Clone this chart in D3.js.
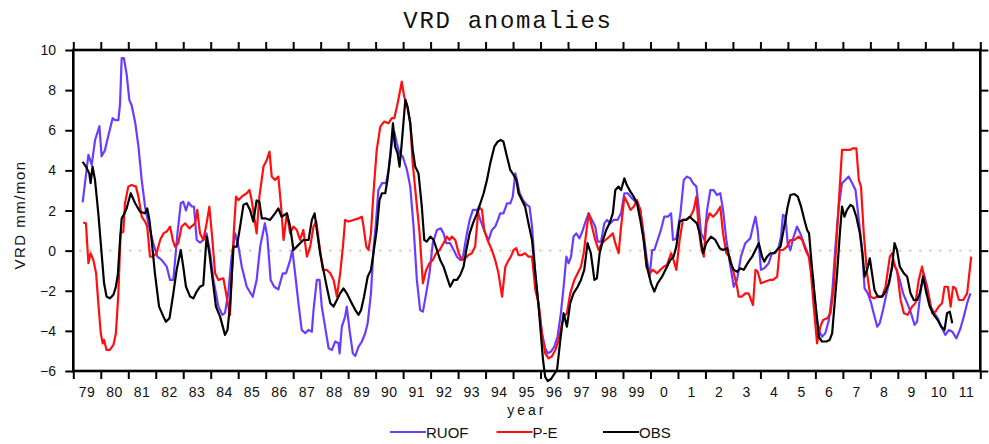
<!DOCTYPE html>
<html><head><meta charset="utf-8">
<script src="https://cdn.jsdelivr.net/npm/d3@7"></script>
<style>
html,body{margin:0;padding:0;background:#fff;}
svg{display:block;}
</style></head>
<body>
<svg id="chart" width="989" height="444"></svg>
<script>
// ---------- data ----------
const titleText = "VRD anomalies";
const yLabelText = "VRD mm/mon";
const xLabelText = "year";
const seriesNames = ["RUOF", "P-E", "OBS"];
const seriesColors = ["#6a3cff", "#ff1010", "#000000"];
const yearStart = 1979, yearEnd = 2012;
const yTicks = [-6, -4, -2, 0, 2, 4, 6, 8, 10];
const xTickYears = d3.range(1979, 2012);
const xTickLabels = ["79","80","81","82","83","84","85","86","87","88","89","90","91","92","93","94","95","96","97","98","99","0","1","2","3","4","5","6","7","8","9","10","11"];

const ruof = [
[1979.34,2.4],[1979.55,4.77],[1979.67,4.27],[1979.79,5.5],[1979.95,6.2],[1980.03,4.7],[1980.15,5.0],[1980.27,5.7],[1980.43,6.6],[1980.52,6.5],[1980.64,6.5],[1980.70,7.3],[1980.76,9.6],[1980.84,9.6],[1980.94,8.8],[1981.04,7.5],[1981.12,7.26],[1981.25,6.4],[1981.37,5.2],[1981.49,3.5],[1981.61,2.2],[1981.73,1.36],[1981.91,0.37],[1982.06,-0.3],[1982.22,-0.47],[1982.40,-0.8],[1982.52,-1.46],[1982.64,-1.46],[1982.79,0.86],[1982.91,2.36],[1983.00,2.44],[1983.10,2.0],[1983.19,2.4],[1983.31,2.2],[1983.39,2.2],[1983.49,0.53],[1983.61,0.4],[1983.73,0.53],[1983.85,0.86],[1983.98,-0.13],[1984.10,-1.46],[1984.28,-2.8],[1984.42,-3.2],[1984.52,-3.1],[1984.64,-2.1],[1984.76,-0.3],[1984.89,0.86],[1985.01,0.2],[1985.13,-0.8],[1985.31,-1.8],[1985.53,-2.3],[1985.67,-1.46],[1985.80,0.2],[1985.97,1.36],[1986.06,0.7],[1986.18,-1.46],[1986.31,-1.8],[1986.46,-1.93],[1986.62,-1.13],[1986.74,-1.13],[1986.89,-0.47],[1986.97,0.03],
[1987.07,-1.13],[1987.19,-2.6],[1987.31,-3.95],[1987.44,-4.12],[1987.56,-3.95],[1987.68,-4.04],[1987.74,-2.96],[1987.86,-1.46],[1987.96,-1.46],[1988.04,-2.79],[1988.16,-3.79],[1988.29,-4.87],[1988.41,-4.95],[1988.53,-4.53],[1988.65,-4.62],[1988.69,-5.12],[1988.77,-3.79],[1988.89,-3.29],[1988.95,-2.79],[1989.05,-3.95],[1989.17,-5.12],[1989.26,-5.25],[1989.38,-4.78],[1989.50,-4.53],[1989.62,-4.12],[1989.71,-3.62],[1989.83,-2.13],[1989.92,0.03],[1990.02,1.53],[1990.10,3.02],[1990.23,3.36],[1990.38,3.36],[1990.47,4.02],[1990.59,5.35],[1990.68,5.93],[1990.77,5.35],[1990.87,4.85],[1990.99,4.68],[1991.14,4.02],[1991.26,3.19],[1991.38,1.2],[1991.50,-1.46],[1991.62,-2.96],[1991.72,-3.04],[1991.84,-2.13],[1991.96,-1.13],[1992.08,0.37],[1992.23,1.03],[1992.37,1.11],[1992.47,0.86],[1992.57,0.37],[1992.71,0.37],[1992.84,0.03],[1992.96,-0.3],[1993.08,-0.47],[1993.18,-0.3],[1993.30,0.7],[1993.42,1.53],[1993.54,2.03],[1993.69,2.03],[1993.81,1.53],[1993.99,0.86],[1994.11,0.53],[1994.23,1.03],[1994.35,1.2],[1994.45,1.53],
[1994.53,1.86],[1994.65,1.86],[1994.78,2.36],[1994.90,2.36],[1994.99,2.69],[1995.08,3.85],[1995.14,3.52],[1995.24,2.86],[1995.36,2.52],[1995.50,2.28],[1995.60,2.19],[1995.69,1.2],[1995.81,-1.13],[1995.93,-2.79],[1996.05,-4.12],[1996.17,-4.87],[1996.26,-5.12],[1996.38,-5.03],[1996.50,-4.78],[1996.62,-4.29],[1996.74,-3.12],[1996.84,-1.8],[1996.94,-0.3],[1997.02,-0.63],[1997.11,-0.3],[1997.20,0.7],[1997.30,0.86],[1997.42,0.61],[1997.54,1.03],[1997.66,1.53],[1997.75,1.86],[1997.87,1.53],[1997.99,1.2],[1998.08,0.45],[1998.20,0.45],[1998.32,1.36],[1998.42,1.53],[1998.54,1.36],[1998.66,1.53],[1998.80,1.53],[1998.93,1.86],[1999.05,2.86],[1999.17,2.86],[1999.27,2.69],[1999.39,2.52],[1999.51,2.36],[1999.63,2.03],[1999.75,0.86],[1999.87,-0.47],[1999.97,-1.3],[2000.06,0.03],[2000.14,0.03],[2000.26,0.53],[2000.38,1.03],[2000.50,1.69],[2000.63,1.69],[2000.75,1.86],[2000.82,0.53],[2000.94,0.61],[2001.09,1.86],[2001.21,3.52],[2001.33,3.69],[2001.45,3.6],[2001.55,3.36],[2001.67,3.19],[2001.75,2.19],[2001.84,0.86],[2001.96,0.53],[2002.06,2.03],[2002.18,3.02],[2002.30,3.02],[2002.42,2.77],[2002.54,2.86],[2002.64,2.03],[2002.76,0.53],
[2002.91,-0.8],[2003.03,-1.8],[2003.15,-1.46],[2003.29,-0.3],[2003.45,0.37],[2003.63,0.61],[2003.73,1.2],[2003.82,1.69],[2003.90,1.03],[2004.02,-0.96],[2004.14,-0.88],[2004.30,-0.63],[2004.42,-0.13],[2004.54,-0.13],[2004.67,0.2],[2004.75,0.7],[2004.82,1.78],[2004.91,1.69],[2004.99,0.37],[2005.09,0.03],[2005.21,0.7],[2005.33,1.2],[2005.45,0.86],[2005.58,0.37],[2005.72,-0.13],[2005.82,-0.47],[2005.92,-1.46],[2006.01,-2.96],[2006.12,-3.95],[2006.24,-4.29],[2006.36,-4.12],[2006.49,-3.46],[2006.61,-2.13],[2006.73,0.2],[2006.85,2.19],[2006.97,3.36],[2007.09,3.52],[2007.21,3.69],[2007.34,3.36],[2007.46,3.02],[2007.58,1.53],[2007.70,0.03],[2007.79,-1.88],[2007.91,-2.13],[2008.03,-2.62],[2008.12,-3.12],[2008.25,-3.79],[2008.34,-3.62],[2008.46,-2.96],[2008.59,-2.13],[2008.71,-1.46],[2008.83,-0.47],[2008.95,-0.96],[2009.07,-1.46],[2009.19,-2.13],[2009.34,-2.62],[2009.48,-3.12],[2009.61,-3.7],[2009.70,-3.54],[2009.82,-2.13],[2009.94,-1.13],[2010.07,-1.8],[2010.19,-2.79],[2010.33,-3.12],[2010.45,-3.37],[2010.58,-3.79],[2010.73,-4.2],[2010.86,-3.95],[2010.98,-4.04],[2011.13,-4.37],[2011.28,-3.87],[2011.40,-3.29],[2011.52,-2.62],[2011.64,-2.13]
];

const pe = [
[1979.36,1.4],[1979.46,1.36],[1979.55,-0.63],[1979.63,-0.13],[1979.73,-0.47],[1979.83,-1.13],[1979.91,-2.62],[1980.00,-4.12],[1980.07,-4.62],[1980.12,-4.45],[1980.21,-4.95],[1980.33,-4.95],[1980.46,-4.7],[1980.55,-4.12],[1980.64,-2.13],[1980.72,0.86],[1980.82,0.95],[1980.88,2.36],[1981.00,3.19],[1981.12,3.27],[1981.28,3.19],[1981.37,2.69],[1981.49,1.69],[1981.61,1.45],[1981.69,1.2],[1981.79,-0.3],[1981.89,-0.3],[1982.03,-0.13],[1982.16,0.53],[1982.28,0.86],[1982.40,0.95],[1982.52,1.2],[1982.62,0.53],[1982.70,0.2],[1982.82,0.37],[1982.94,1.2],[1983.07,1.36],[1983.22,1.11],[1983.43,1.36],[1983.51,2.03],[1983.61,0.86],[1983.73,0.53],[1983.85,1.36],[1983.95,2.19],[1984.04,0.86],[1984.16,-1.13],[1984.28,-1.46],[1984.46,-1.38],[1984.58,-2.29],[1984.70,-3.2],[1984.83,0.7],[1984.92,2.69],[1985.01,2.52],[1985.13,2.69],[1985.31,2.86],[1985.41,3.02],[1985.49,2.52],[1985.58,1.69],[1985.67,0.86],[1985.77,2.69],[1985.92,4.19],[1986.04,4.52],[1986.14,4.93],[1986.22,3.69],[1986.34,3.52],[1986.46,3.69],[1986.56,2.19],[1986.65,0.53],[1986.77,1.86],[1986.89,0.86],[1987.01,1.2],[1987.13,1.03],[1987.25,0.53],[1987.37,1.03],[1987.50,-0.3],[1987.62,0.2],[1987.74,1.2],[1987.84,1.45],[1987.96,0.2],[1988.08,-0.96],[1988.22,-0.96],[1988.35,-1.13],[1988.47,-1.46],[1988.59,-2.29],[1988.71,-1.13],[1988.81,0.2],[1988.89,1.53],[1989.01,1.45],[1989.19,1.53],[1989.38,1.61],[1989.50,1.69],[1989.56,1.2],[1989.66,0.2],[1989.74,0.03],[1989.83,0.86],[1989.92,2.86],[1990.04,5.02],[1990.17,6.18],[1990.31,6.43],[1990.47,6.35],[1990.59,6.6],[1990.68,6.6],[1990.80,7.34],[1990.95,8.42],[1991.04,7.67],[1991.14,7.26],[1991.26,6.35],[1991.35,4.35],[1991.48,2.52],[1991.60,0.86],[1991.72,-1.63],[1991.84,-0.96],[1991.96,-0.63],[1992.08,-0.47],[1992.20,-0.13],[1992.33,0.03],[1992.47,0.37],[1992.59,0.7],[1992.69,0.53],[1992.77,0.7],[1992.90,0.53],[1993.02,-0.13],[1993.14,-0.47],[1993.26,-0.38],[1993.38,-0.22],[1993.50,-0.13],[1993.62,0.2],[1993.75,2.19],[1993.87,2.03],[1993.95,1.03],[1994.07,0.53],[1994.23,0.03],[1994.35,-0.47],[1994.47,-1.13],
[1994.60,-2.29],[1994.72,-0.8],[1994.84,-0.47],[1994.92,-0.3],[1995.02,0.03],[1995.12,0.12],[1995.20,-0.22],[1995.32,-0.22],[1995.44,-0.13],[1995.56,-0.3],[1995.69,-0.3],[1995.81,-1.96],[1995.93,-2.62],[1996.05,-4.12],[1996.17,-5.12],[1996.29,-5.37],[1996.41,-5.28],[1996.54,-4.95],[1996.66,-4.45],[1996.78,-3.62],[1996.86,-3.29],[1996.96,-3.12],[1997.08,-2.13],[1997.23,-1.46],[1997.35,-1.13],[1997.47,-0.8],[1997.57,-0.13],[1997.66,0.86],[1997.75,1.86],[1997.87,1.2],[1997.99,0.53],[1998.11,0.03],[1998.23,0.37],[1998.36,0.53],[1998.51,0.7],[1998.63,0.86],[1998.72,0.37],[1998.84,-0.13],[1998.93,1.2],[1999.05,2.69],[1999.17,2.36],[1999.27,2.03],[1999.39,2.19],[1999.51,2.52],[1999.63,2.03],[1999.75,0.7],[1999.85,-0.8],[1999.97,-1.13],[2000.09,-0.96],[2000.24,-1.13],[2000.36,-0.96],[2000.48,-0.8],[2000.60,-0.71],[2000.75,-0.13],[2000.84,-0.47],[2000.94,-0.96],[2001.06,0.53],[2001.18,1.53],[2001.30,1.53],[2001.45,1.69],[2001.57,2.03],[2001.67,2.69],[2001.75,1.2],[2001.84,0.2],[2001.94,-0.3],[2002.03,1.36],[2002.15,1.86],[2002.28,1.69],[2002.40,1.86],[2002.54,2.19],[2002.64,0.86],[2002.76,-0.13],[2002.88,-0.3],
[2003.03,-1.13],[2003.15,-1.8],[2003.21,-2.29],[2003.33,-2.29],[2003.45,-2.13],[2003.57,-2.13],[2003.73,-2.71],[2003.82,-0.96],[2003.90,-1.05],[2004.02,-1.63],[2004.18,-1.54],[2004.34,-1.46],[2004.46,-1.46],[2004.61,-1.3],[2004.70,0.03],[2004.82,0.03],[2004.97,0.2],[2005.09,0.53],[2005.24,0.53],[2005.39,0.7],[2005.52,0.53],[2005.64,0.03],[2005.76,-0.3],[2005.84,-1.13],[2005.94,-2.79],[2006.06,-4.62],[2006.18,-3.79],[2006.28,-3.46],[2006.43,-3.37],[2006.55,-3.12],[2006.67,-1.8],[2006.77,0.53],[2006.85,2.36],[2006.97,5.02],[2007.09,5.02],[2007.25,5.02],[2007.37,5.1],[2007.49,5.1],[2007.58,3.52],[2007.66,3.19],[2007.76,0.86],[2007.88,-1.13],[2008.00,-2.29],[2008.12,-2.38],[2008.27,-2.29],[2008.43,-2.29],[2008.55,-1.8],[2008.71,-0.3],[2008.79,-0.13],[2008.88,-0.8],[2008.97,-0.96],[2009.10,-2.46],[2009.22,-3.12],[2009.36,-3.2],[2009.52,-2.79],[2009.64,-2.62],[2009.76,-1.46],[2009.88,-0.8],[2010.01,-1.63],[2010.13,-2.29],[2010.25,-3.12],[2010.37,-3.04],[2010.49,-2.79],[2010.61,-2.62],[2010.70,-1.8],[2010.82,-1.8],[2010.92,-2.79],[2011.01,-1.8],[2011.10,-1.88],[2011.22,-2.46],[2011.38,-2.46],[2011.52,-2.13],[2011.67,-0.3]
];

const obs = [
[1979.34,4.43],[1979.46,4.19],[1979.58,3.85],[1979.63,3.36],[1979.70,4.19],[1979.79,3.52],[1979.91,1.86],[1980.03,-0.13],[1980.12,-1.63],[1980.21,-2.29],[1980.33,-2.38],[1980.46,-2.2],[1980.55,-1.8],[1980.62,-1.2],[1980.70,0.5],[1980.76,1.6],[1980.84,1.8],[1980.94,2.1],[1981.09,2.86],[1981.25,2.36],[1981.43,1.94],[1981.61,1.86],[1981.69,2.1],[1981.77,1.53],[1981.85,0.53],[1981.97,-1.13],[1982.12,-2.79],[1982.28,-3.29],[1982.37,-3.54],[1982.50,-3.37],[1982.64,-2.13],[1982.76,-0.96],[1982.91,0.03],[1983.00,-0.8],[1983.10,-1.8],[1983.25,-2.29],[1983.37,-2.38],[1983.49,-2.04],[1983.61,-1.8],[1983.73,-1.71],[1983.85,0.7],[1983.95,-0.13],[1984.07,-1.46],[1984.19,-2.79],[1984.34,-3.29],[1984.52,-4.2],[1984.61,-3.95],[1984.70,-2.79],[1984.83,0.2],[1984.95,0.2],[1985.07,1.2],[1985.19,2.28],[1985.31,2.36],[1985.43,2.03],[1985.55,1.45],[1985.67,2.5],[1985.77,2.44],[1985.86,1.61],[1985.98,1.61],[1986.16,1.53],[1986.34,1.86],[1986.46,2.1],[1986.58,1.69],[1986.77,1.86],[1986.89,1.2],[1987.01,0.03],[1987.13,0.2],[1987.37,0.53],[1987.56,0.53],[1987.68,1.53],[1987.78,1.86],[1987.86,1.03],[1987.98,-0.13],[1988.10,-0.96],[1988.22,-1.8],[1988.35,-2.62],[1988.47,-2.79],[1988.59,-2.46],[1988.71,-2.13],[1988.83,-1.88],[1988.95,-2.13],[1989.13,-2.62],[1989.26,-2.96],[1989.38,-3.2],[1989.47,-2.96],[1989.58,-2.29],[1989.71,-1.3],[1989.83,-0.96],[1989.92,-0.13],[1990.04,1.03],[1990.14,2.52],[1990.23,2.86],[1990.35,2.86],[1990.43,3.52],[1990.53,4.68],[1990.63,6.35],[1990.71,5.18],[1990.80,4.85],[1990.87,4.19],[1990.95,5.35],[1991.08,7.51],[1991.16,7.18],[1991.26,6.35],[1991.35,5.02],[1991.44,4.19],[1991.56,3.85],[1991.68,2.19],[1991.77,0.53],[1991.86,0.45],[1991.99,0.7],[1992.11,0.53],[1992.23,0.03],[1992.35,-0.47],[1992.47,-0.8],[1992.59,-1.3],[1992.71,-1.8],[1992.84,-1.46],[1992.96,-1.46],[1993.08,-1.21],[1993.20,-0.8],[1993.30,0.03],[1993.42,0.86],[1993.54,1.36],[1993.69,1.86],[1993.81,2.36],[1993.93,2.86],[1994.05,3.52],[1994.17,4.35],[1994.32,5.18],[1994.44,5.43],
[1994.55,5.52],[1994.65,5.43],[1994.78,4.68],[1994.90,4.02],[1995.02,3.77],[1995.12,3.52],[1995.20,2.86],[1995.32,2.52],[1995.44,2.19],[1995.56,1.36],[1995.69,0.53],[1995.81,-1.13],[1995.93,-2.79],[1996.01,-4.12],[1996.09,-5.45],[1996.17,-6.3],[1996.26,-6.5],[1996.38,-6.4],[1996.50,-6.15],[1996.60,-5.95],[1996.72,-4.45],[1996.84,-3.12],[1996.96,-3.79],[1997.08,-2.62],[1997.20,-2.13],[1997.35,-1.8],[1997.47,-1.46],[1997.59,-0.96],[1997.71,0.37],[1997.83,-0.13],[1997.96,-1.46],[1998.05,-1.38],[1998.15,-0.13],[1998.27,0.53],[1998.39,1.03],[1998.51,1.36],[1998.63,1.86],[1998.72,3.02],[1998.84,3.19],[1998.93,3.02],[1999.05,3.6],[1999.14,3.27],[1999.27,2.94],[1999.39,2.69],[1999.51,2.36],[1999.63,1.53],[1999.75,0.53],[1999.87,-0.8],[2000.02,-1.63],[2000.14,-2.04],[2000.26,-1.63],[2000.42,-1.3],[2000.60,-0.8],[2000.72,-0.47],[2000.84,-0.3],[2000.94,0.2],[2001.06,1.45],[2001.18,1.53],[2001.30,1.53],[2001.43,1.69],[2001.55,1.53],[2001.69,1.36],[2001.79,0.86],[2001.91,-0.13],[2002.03,0.37],[2002.20,0.7],[2002.36,0.53],[2002.52,0.12],[2002.64,0.03],[2002.79,0.12],[2002.91,-0.6],
[2003.03,-0.96],[2003.15,-1.05],[2003.27,-0.88],[2003.39,-0.96],[2003.57,-0.55],[2003.70,-0.3],[2003.82,0.03],[2003.94,0.37],[2004.06,-0.3],[2004.14,-0.55],[2004.24,-0.3],[2004.36,-0.13],[2004.48,-0.13],[2004.61,0.03],[2004.73,0.2],[2004.82,0.86],[2004.91,1.53],[2004.99,2.19],[2005.09,2.77],[2005.24,2.82],[2005.36,2.69],[2005.48,2.19],[2005.60,1.53],[2005.70,1.03],[2005.77,0.86],[2005.84,-0.3],[2005.94,-1.8],[2006.04,-3.12],[2006.12,-4.29],[2006.24,-4.53],[2006.40,-4.53],[2006.52,-4.45],[2006.61,-4.12],[2006.69,-2.79],[2006.79,-1.13],[2006.89,0.86],[2006.97,2.19],[2007.06,1.69],[2007.15,2.03],[2007.28,2.28],[2007.37,2.19],[2007.49,1.69],[2007.62,0.86],[2007.71,-0.13],[2007.79,-1.3],[2007.88,-0.96],[2007.98,-0.38],[2008.06,-1.13],[2008.15,-1.96],[2008.27,-2.29],[2008.43,-2.29],[2008.55,-2.04],[2008.67,-1.63],[2008.79,-0.8],[2008.88,0.37],[2008.97,0.03],[2009.07,-0.8],[2009.22,-1.13],[2009.34,-1.3],[2009.46,-2.13],[2009.58,-2.46],[2009.70,-2.46],[2009.80,-2.13],[2009.92,-1.3],[2010.04,-2.13],[2010.16,-2.79],[2010.31,-3.2],[2010.45,-3.46],[2010.58,-3.79],[2010.70,-3.95],[2010.79,-3.12],[2010.89,-3.04],[2010.98,-3.62]
];

const seriesData = [ruof, pe, obs];

// ---------- layout ----------
const svg = d3.select("#chart");
const L = 73.3, R = 980.3, T = 50, B = 371;
const x = d3.scaleLinear().domain([yearStart, yearEnd]).range([L, R]);
const y = d3.scaleLinear().domain([-6, 10]).range([B, T]);
const sansFont = "'Liberation Sans', Arial, Helvetica, sans-serif";

// title
svg.append("text").attr("x", 508).attr("y", 28)
  .attr("text-anchor", "middle")
  .style("font-family", "'Liberation Mono', 'DejaVu Sans Mono', monospace")
  .style("font-size", "24px").style("letter-spacing", "1.7px")
  .style("fill", "#111")
  .text(titleText);

// zero reference line (dotted)
svg.append("line")
  .attr("x1", x(yearStart) + 6).attr("x2", x(yearEnd))
  .attr("y1", y(0)).attr("y2", y(0))
  .attr("stroke", "#dcb898").attr("stroke-width", 1.6)
  .attr("stroke-dasharray", "2,8");

// series lines
const line = d3.line().x(d => x(d[0])).y(d => y(d[1]));
seriesData.forEach((s, i) => {
  svg.append("path").datum(s)
    .attr("d", line)
    .attr("fill", "none")
    .attr("stroke", seriesColors[i])
    .attr("stroke-width", 2.2)
    .attr("stroke-linejoin", "round");
});

// axes (outward ticks)
const tickLen = 8;
const axStyle = g => {
  g.select(".domain").remove();
  g.selectAll(".tick line").attr("stroke", "#000").attr("stroke-width", 2);
  g.selectAll(".tick text").remove();
};
svg.append("g").attr("transform", `translate(0,${B})`)
  .call(d3.axisBottom(x).tickValues(d3.range(yearStart, yearEnd + 1)).tickSize(tickLen)).call(axStyle);
svg.append("g").attr("transform", `translate(0,${T})`)
  .call(d3.axisTop(x).tickValues(d3.range(yearStart, yearEnd + 1)).tickSize(tickLen)).call(axStyle);
svg.append("g").attr("transform", `translate(${L},0)`)
  .call(d3.axisLeft(y).tickValues(yTicks).tickSize(tickLen)).call(axStyle);
svg.append("g").attr("transform", `translate(${R},0)`)
  .call(d3.axisRight(y).tickValues(yTicks).tickSize(tickLen)).call(axStyle);

// frame
svg.append("rect").attr("x", L).attr("y", T)
  .attr("width", R - L).attr("height", B - T)
  .attr("fill", "none").attr("stroke", "#000").attr("stroke-width", 2.6);

// x tick labels (mid-year)
svg.append("g").selectAll("text").data(xTickYears).join("text")
  .attr("x", d => x(d + 0.5)).attr("y", 397)
  .attr("text-anchor", "middle")
  .style("font-family", sansFont).style("font-size", "14px")
  .style("letter-spacing", "0.5px").style("fill", "#111")
  .text((d, i) => xTickLabels[i]);

// y tick labels
svg.append("g").selectAll("text").data(yTicks).join("text")
  .attr("x", 56).attr("y", d => y(d) + 5)
  .attr("text-anchor", "end")
  .style("font-family", sansFont).style("font-size", "14px")
  .style("fill", "#111")
  .text(d => d < 0 ? "\u2212" + Math.abs(d) : String(d));

// axis titles
svg.append("text").attr("x", (L + R) / 2).attr("y", 415)
  .attr("text-anchor", "middle")
  .style("font-family", sansFont).style("font-size", "14px")
  .style("letter-spacing", "3px").style("fill", "#111")
  .text(xLabelText);
svg.append("text")
  .attr("transform", "translate(25,215) rotate(-90)")
  .attr("text-anchor", "middle")
  .style("font-family", sansFont).style("font-size", "15px")
  .style("letter-spacing", "1.5px").style("fill", "#111")
  .text(yLabelText);

// legend
const lg = svg.append("g").selectAll("g").data(seriesNames).join("g")
  .attr("transform", (d, i) => `translate(${390 + i * 106.5},432)`);
lg.append("line").attr("x1", 0).attr("x2", 36).attr("y1", 0).attr("y2", 0)
  .attr("stroke", (d, i) => seriesColors[i]).attr("stroke-width", 2.2);
lg.append("text").attr("x", 36).attr("y", 6)
  .style("font-family", sansFont).style("font-size", "15px")
  .style("fill", "#111")
  .text(d => d);
</script>
</body></html>
